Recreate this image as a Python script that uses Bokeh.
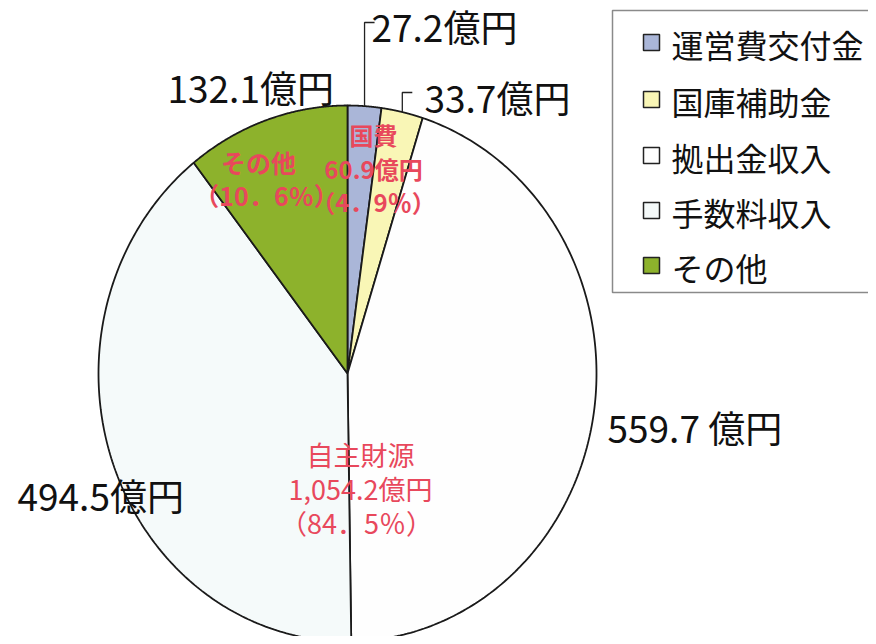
import numpy as np
from bokeh.plotting import figure
from bokeh.models import Range1d, ColumnDataSource
from bokeh.core.properties import value
from bokeh.embed import file_html
from bokeh.resources import INLINE

# ---- data ----
categories = ["運営費交付金", "国庫補助金", "拠出金収入", "手数料収入", "その他"]
amounts = [27.2, 33.7, 559.7, 494.5, 132.1]
amount_labels = ["27.2億円", "33.7億円", "559.7 億円", "494.5億円", "132.1億円"]
group_lines = [
    ["国費", "60.9億円", "（4．9％）"],
    ["その他", "（10．6％）"],
    ["自主財源", "1,054.2億円", "（84．5％）"],
]

# ---- styles / positions ----
colors = ["#aab6d8", "#f9f6b6", "#fefefe", "#f5fafa", "#8db22c"]
FONT = "Noto Sans CJK JP"
RED = "#e8485c"
cx, cy, rx, ry = 347, 373, 249, 268

p = figure(width=868, height=636, output_backend="svg", toolbar_location=None,
           x_range=Range1d(0, 868), y_range=Range1d(636, 0),
           min_border=0, x_axis_type=None, y_axis_type=None)
p.grid.visible = False
p.outline_line_color = None
p.background_fill_color = "white"
p.border_fill_color = "white"

total = sum(amounts)
cum = np.concatenate([[0], np.cumsum(amounts)])
xs, ys, mids = [], [], []
for i in range(len(amounts)):
    t = np.linspace(2 * np.pi * cum[i] / total, 2 * np.pi * cum[i + 1] / total, 200)
    xs.append([cx] + list(cx + rx * np.sin(t)) + [cx])
    ys.append([cy] + list(cy - ry * np.cos(t)) + [cy])
    mids.append(np.pi * (cum[i] + cum[i + 1]) / total)

src = ColumnDataSource(dict(xs=xs, ys=ys, color=colors, cat=categories))
p.patches("xs", "ys", source=src, fill_color="color", line_color="#1a1a1a", line_width=1.8)

# leader lines for the two small slices
lead_y = [22, 92]
lead_dx = [10, 10]
for i in range(2):
    x0 = cx + rx * np.sin(mids[i])
    y0 = cy - ry * np.cos(mids[i])
    p.line([x0, x0, x0 + lead_dx[i]], [y0, lead_y[i], lead_y[i]], line_color="#222", line_width=1.3)

# amount labels
lab_x = [371, 424, 607, 17, 167]
lab_y = [25, 96, 426, 494, 86]
p.text(x=lab_x, y=lab_y, text=amount_labels, text_font=value(FONT), text_font_size="37px",
       text_color="#111", text_baseline="middle", text_align="left")

# red group labels
gx = [[373, 373, 373], [258, 266], [360, 360, 356]]
gy = [[134, 168, 201], [161, 194], [454, 488, 522]]
gsize = ["24px", "25px", "27px"]
gstyle = ["bold", "bold", "normal"]
for lines, xx, yy, fs, st in zip(group_lines, gx, gy, gsize, gstyle):
    p.text(x=xx, y=yy, text=lines, text_font=value(FONT), text_font_size=fs,
           text_font_style=st, text_color=RED, text_baseline="middle", text_align="center")

# legend (drawn box, swatches and labels); its right side runs off the page
leg_left, leg_top, leg_bottom = 612, 10, 292
p.quad(left=[leg_left], right=[1000], top=[leg_top], bottom=[leg_bottom],
       fill_color="white", line_color="#8a8a8a", line_width=1.5)
row_y = [42, 99, 155, 210, 265]
p.rect(x=[651] * len(categories), y=row_y, width=16, height=16,
       fill_color=colors, line_color="#222", line_width=1.5)
p.text(x=[671] * len(categories), y=[yy + 1 for yy in row_y], text=categories,
       text_font=value(FONT), text_font_size="32px", text_color="#111",
       text_baseline="middle", text_align="left")

open("out.html", "w").write(file_html(p, INLINE))
